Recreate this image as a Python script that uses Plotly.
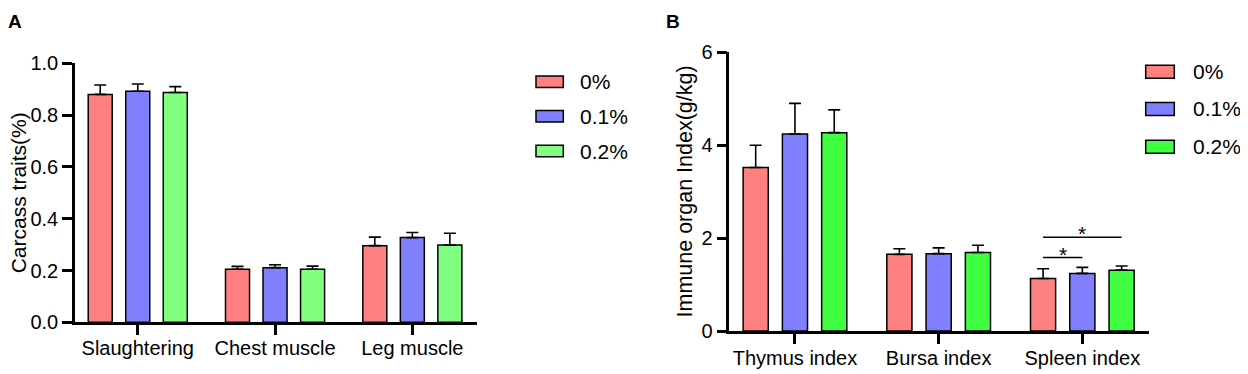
import plotly.graph_objects as go

# page body has an 8px margin: shift every pixel position by it
OFF = 8
W, H = 1248 - OFF, 374 - OFF

groups = ["0%", "0.1%", "0.2%"]
colors_a = ["#FF8080", "#8080FF", "#80FF80"]
colors_b = ["#FF8080", "#8080FF", "#40FF40"]

cats_a = ["Slaughtering", "Chest muscle", "Leg muscle"]
mean_a_0 = [0.880, 0.205, 0.296]
mean_a_1 = [0.892, 0.211, 0.327]
mean_a_2 = [0.887, 0.205, 0.298]
sd_a_0 = [0.036, 0.011, 0.033]
sd_a_1 = [0.028, 0.011, 0.020]
sd_a_2 = [0.023, 0.012, 0.046]

cats_b = ["Thymus index", "Bursa index", "Spleen index"]
mean_b_0 = [3.52, 1.65, 1.13]
mean_b_1 = [4.24, 1.665, 1.24]
mean_b_2 = [4.27, 1.69, 1.31]
sd_b_0 = [0.48, 0.12, 0.21]
sd_b_1 = [0.66, 0.125, 0.13]
sd_b_2 = [0.49, 0.155, 0.09]

sig_pairs = [(0, 1), (0, 2)]   # spleen index: 0% vs 0.1%, 0% vs 0.2%
sig_y = [1.58, 2.02]
sig_labels = ["*", "*"]

BARGAP = 0.18
BARGROUPGAP = 0.36
FONT = "Liberation Sans, Arial, sans-serif"

fig = go.Figure()

def add_bars(cats, means, sds, colors, xa, ya):
    for name, m, s, c in zip(groups, means, sds, colors):
        fig.add_trace(go.Bar(
            x=cats, y=m, name=name, xaxis=xa, yaxis=ya, showlegend=False,
            marker=dict(color=c, line=dict(color="black", width=1.5)),
            error_y=dict(type="data", array=s, arrayminus=[0] * len(s), symmetric=False,
                         color="black", thickness=1.6, width=6),
        ))

add_bars(cats_a, [mean_a_0, mean_a_1, mean_a_2], [sd_a_0, sd_a_1, sd_a_2], colors_a, "x", "y")
add_bars(cats_b, [mean_b_0, mean_b_1, mean_b_2], [sd_b_0, sd_b_1, sd_b_2], colors_b, "x2", "y2")

def px(x):
    return (x - OFF) / W

def py(y):
    return (H - (y - OFF)) / H

axis_common = dict(showline=True, linewidth=2.5, linecolor="black", ticks="outside",
                   ticklen=10, tickwidth=2.5, tickcolor="black", showgrid=False, zeroline=False,
                   automargin=False,
                   tickfont=dict(family=FONT, size=20, color="black"))

fig.update_layout(
    width=W, height=H, margin=dict(l=0, r=0, t=0, b=0, pad=0, autoexpand=False),
    showlegend=False,
    paper_bgcolor="white", plot_bgcolor="white",
    barmode="group", bargap=BARGAP, bargroupgap=BARGROUPGAP,
    font=dict(family=FONT, color="black"),
    xaxis=dict(domain=[px(75), px(477)], range=[-0.457, 2.471], anchor="y", type="category",
               ticklabelstandoff=-4, **axis_common),
    yaxis=dict(domain=[py(322.3), py(63.3)], range=[0, 1], dtick=0.2, tickformat=".1f", anchor="x", **axis_common),
    xaxis2=dict(domain=[px(729.3), px(1149.3)], range=[-0.457, 2.466], anchor="y2", type="category",
                ticklabelstandoff=-3, **axis_common),
    yaxis2=dict(domain=[py(331), py(52.3)], range=[0, 6], dtick=2, anchor="x2", **axis_common),
)

annotations = [
    dict(text="<b>A</b>", x=px(15), y=py(21), xref="paper", yref="paper", showarrow=False,
         font=dict(size=19, family=FONT), xanchor="center", yanchor="middle"),
    dict(text="<b>B</b>", x=px(673), y=py(21), xref="paper", yref="paper", showarrow=False,
         font=dict(size=19, family=FONT), xanchor="center", yanchor="middle"),
    dict(text="Carcass traits(%)", x=px(18), y=py(193.3), xref="paper", yref="paper", showarrow=False,
         textangle=-90, font=dict(size=21, family=FONT), xanchor="center", yanchor="middle",
         borderpad=0),
    dict(text="Immune organ Index(g/kg)", x=px(684), y=py(191.5), xref="paper", yref="paper", showarrow=False,
         textangle=-90, font=dict(size=21.5, family=FONT), xanchor="center", yanchor="middle"),
]
shapes = []

# legends
def add_legend(x0, x1, ys, h, tx, colors):
    for name, yc, c in zip(groups, ys, colors):
        shapes.append(dict(type="rect", xref="paper", yref="paper",
                           x0=px(x0), x1=px(x1), y0=py(yc + h / 2), y1=py(yc - h / 2),
                           fillcolor=c, line=dict(color="black", width=1.5)))
        annotations.append(dict(text=name, x=px(tx), y=py(yc), xref="paper", yref="paper",
                                showarrow=False, xanchor="left", yanchor="middle",
                                font=dict(size=21, family=FONT)))

add_legend(536, 563.3, [81.7, 116.3, 151], 11.5, 578, colors_a)
add_legend(1145.7, 1174.3, [71.7, 109, 146.7], 13, 1191, colors_b)

# significance lines on Spleen index
slot = (1 - BARGAP) / 3
ci = cats_b.index("Spleen index")
for (i, j), yv, lab in zip(sig_pairs, sig_y, sig_labels):
    xa = ci + (i - 1) * slot
    xb = ci + (j - 1) * slot
    shapes.append(dict(type="line", xref="x2", yref="y2", x0=xa, x1=xb, y0=yv, y1=yv,
                       line=dict(color="black", width=1.5)))
    annotations.append(dict(text=lab, x=(xa + xb) / 2, y=yv, xref="x2", yref="y2", showarrow=False,
                            xanchor="center", yanchor="bottom", yshift=-10,
                            font=dict(size=21, family=FONT)))

fig.update_layout(annotations=annotations, shapes=shapes)
fig.write_html("out.html")
